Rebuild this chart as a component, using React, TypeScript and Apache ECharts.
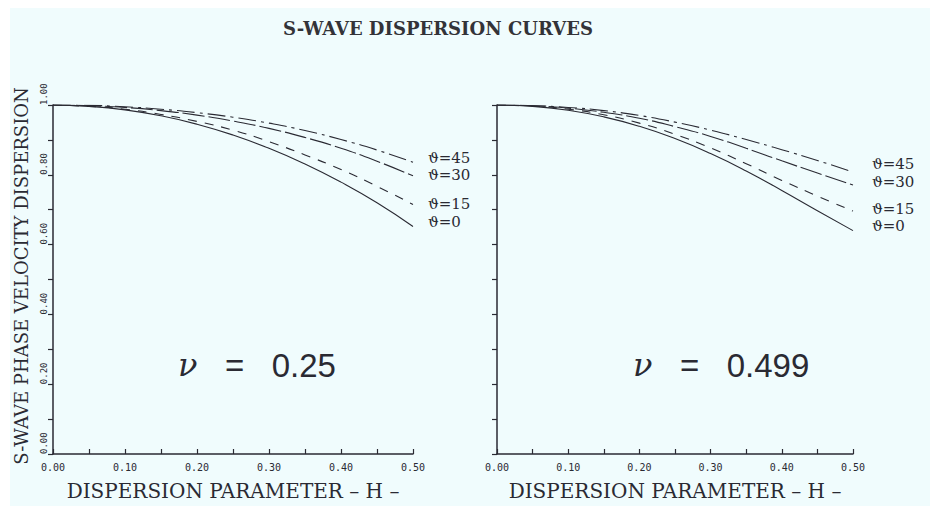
import React, { useEffect, useRef } from 'react';
import * as echarts from 'echarts';

const TITLE = 'S-WAVE DISPERSION CURVES';
const Y_NAME = 'S-WAVE PHASE VELOCITY DISPERSION';
const X_NAME = 'DISPERSION PARAMETER – H –';
const H_VALUES = [0, 0.05, 0.1, 0.15, 0.2, 0.25, 0.3, 0.35, 0.4, 0.45, 0.5];
const CURVE_NAMES = ['ϑ=0', 'ϑ=15', 'ϑ=30', 'ϑ=45'];

// Left panel, nu = 0.25
const LEFT_T0 = [1, 0.996, 0.986, 0.969, 0.945, 0.914, 0.876, 0.831, 0.779, 0.72, 0.652];
const LEFT_T15 = [1, 0.996, 0.988, 0.973, 0.953, 0.928, 0.895, 0.857, 0.815, 0.767, 0.715];
const LEFT_T30 = [1, 0.998, 0.993, 0.984, 0.971, 0.954, 0.933, 0.907, 0.876, 0.839, 0.797];
const LEFT_T45 = [1, 0.999, 0.995, 0.988, 0.978, 0.965, 0.948, 0.927, 0.901, 0.871, 0.836];

// Right panel, nu = 0.499
const RIGHT_T0 = [1, 0.996, 0.985, 0.966, 0.939, 0.904, 0.861, 0.811, 0.755, 0.697, 0.64];
const RIGHT_T15 = [1, 0.997, 0.988, 0.972, 0.948, 0.916, 0.877, 0.832, 0.784, 0.739, 0.696];
const RIGHT_T30 = [1, 0.998, 0.991, 0.979, 0.962, 0.938, 0.91, 0.876, 0.84, 0.805, 0.771];
const RIGHT_T45 = [1, 0.998, 0.993, 0.984, 0.97, 0.951, 0.928, 0.901, 0.872, 0.841, 0.808];

const PANEL_LABELS = ['0.25', '0.499'];

const INK = '#2a2a33';
const BG = '#f0fcfd';

export default function App() {
  const ref = useRef<HTMLDivElement>(null);

  useEffect(() => {
    if (!ref.current) return;
    const chart = echarts.init(ref.current, undefined, { renderer: 'svg' });

    const dashes: any[] = ['solid', [9, 8], [22, 4], [18, 5, 3, 5]];
    const leftOffsets = [-4, 0, -1, -4];
    const rightOffsets = [-5, -2, -3, -8];
    const leftSets = [LEFT_T0, LEFT_T15, LEFT_T30, LEFT_T45];
    const rightSets = [RIGHT_T0, RIGHT_T15, RIGHT_T30, RIGHT_T45];

    const mkSeries = (sets: number[][], idx: number, offsets: number[], dist: number) =>
      sets.map((vals, i) => ({
        type: 'line',
        name: CURVE_NAMES[i],
        xAxisIndex: idx,
        yAxisIndex: idx,
        data: H_VALUES.map((h, k) => [h, vals[k]]),
        smooth: true,
        showSymbol: false,
        symbol: 'none',
        lineStyle: { color: INK, width: 1.1, type: dashes[i] },
        endLabel: {
          show: true,
          formatter: CURVE_NAMES[i],
          distance: dist,
          offset: [0, offsets[i]],
          fontFamily: 'DejaVu Serif',
          fontSize: 15,
          lineHeight: 15,
          color: INK,
        },
      }));

    const xAxisBase = (gridIndex: number) => ({
      type: 'value',
      gridIndex,
      min: 0,
      max: 0.5,
      interval: 0.05,
      name: X_NAME,
      nameLocation: 'middle',
      nameGap: 27,
      nameTextStyle: { fontFamily: 'DejaVu Serif', fontSize: 20, color: INK },
      axisLine: { show: true, lineStyle: { color: INK, width: 1.5 } },
      axisTick: { show: true, inside: true, length: 5, lineStyle: { color: INK, width: 1.2 } },
      axisLabel: {
        margin: 8,
        fontFamily: 'DejaVu Sans Mono',
        fontSize: 10,
        color: INK,
        formatter: (v: number) => (Math.round(v * 100) % 10 === 0 ? v.toFixed(2) : ''),
      },
      splitLine: { show: false },
    });

    const yAxisBase = (gridIndex: number, labels: boolean) => ({
      type: 'value',
      gridIndex,
      min: 0,
      max: 1,
      interval: 0.1,
      axisLine: { show: true, lineStyle: { color: INK, width: 1.5 } },
      axisTick: { show: true, inside: false, length: 5, lineStyle: { color: INK, width: 1.2 } },
      axisLabel: {
        show: labels,
        rotate: 90,
        align: 'left',
        verticalAlign: 'middle',
        margin: 9,
        fontFamily: 'DejaVu Sans Mono',
        fontSize: 9,
        color: INK,
        formatter: (v: number) => (Math.round(v * 10) % 2 === 0 ? v.toFixed(2) : ''),
      },
      splitLine: { show: false },
    });

    const nuText = (x: number, val: string) => ({
      type: 'text',
      x,
      y: 357,
      style: {
        text: '{a|ν}   =   ' + val,
        fontFamily: 'Liberation Sans',
        fontSize: 33,
        fill: INK,
        verticalAlign: 'middle',
        rich: { a: { fontFamily: 'DejaVu Serif', fontStyle: 'italic', fontSize: 32, fill: INK } },
      },
    });

    chart.setOption({
      animation: false,
      backgroundColor: BG,
      grid: [
        { left: 43, top: 97, width: 360, height: 359 },
        { left: 487, top: 97, width: 356, height: 359 },
      ],
      xAxis: [xAxisBase(0), xAxisBase(1)],
      yAxis: [yAxisBase(0, true), yAxisBase(1, false)],
      series: [...mkSeries(leftSets, 0, leftOffsets, 15), ...mkSeries(rightSets, 1, rightOffsets, 19)],
      graphic: [
        {
          type: 'text',
          x: 428,
          y: 20,
          style: {
            text: TITLE,
            fontFamily: 'DejaVu Serif',
            fontWeight: 'bold',
            fontSize: 18,
            fill: '#333338',
            align: 'center',
            verticalAlign: 'middle',
          },
        },
        {
          type: 'text',
          x: 11,
          y: 268,
          rotation: Math.PI / 2,
          style: {
            text: Y_NAME,
            fontFamily: 'DejaVu Serif',
            fontSize: 18,
            fill: INK,
            align: 'center',
            verticalAlign: 'middle',
          },
        },
        nuText(168, PANEL_LABELS[0]),
        nuText(623, PANEL_LABELS[1]),
      ],
    });

    return () => chart.dispose();
  }, []);

  return (
    <div
      ref={ref}
      style={{ position: 'fixed', left: 10, top: 8, width: 920, height: 498 }}
    />
  );
}
